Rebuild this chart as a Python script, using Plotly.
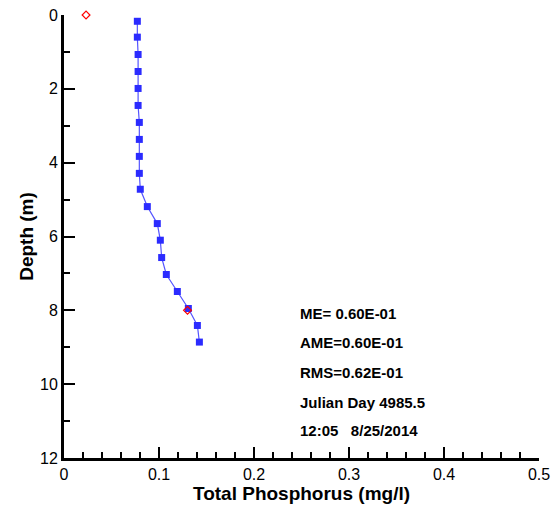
import plotly.graph_objects as go

# Model profile (blue squares)
model_tp = [0.0772, 0.0772, 0.0780, 0.0780, 0.0780, 0.0780, 0.0793, 0.0793, 0.0793,
            0.0793, 0.0803, 0.0877, 0.0982, 0.1014, 0.1028, 0.1077, 0.1193, 0.1309,
            0.1404, 0.1425]
model_depth = [0.17, 0.60, 1.07, 1.53, 1.99, 2.45, 2.91, 3.37, 3.83, 4.29, 4.72, 5.19,
               5.65, 6.10, 6.57, 7.03, 7.49, 7.95, 8.41, 8.86]

# Observations (red diamonds)
obs_tp = [0.0232, 0.130]
obs_depth = [0.0, 8.0]

stats_lines = ["ME= 0.60E-01", "AME=0.60E-01", "RMS=0.62E-01",
               "Julian Day 4985.5", "12:05   8/25/2014"]

x_ticks = [0, 0.1, 0.2, 0.3, 0.4, 0.5]
y_ticks = [0, 2, 4, 6, 8, 10, 12]

FONT = "Liberation Sans, Arial, sans-serif"

fig = go.Figure()
fig.add_trace(go.Scatter(
    x=model_tp, y=model_depth, mode="lines+markers",
    line=dict(color="#5555ff", width=1.2),
    marker=dict(symbol="square", size=7, color="#2b2bff"),
    showlegend=False, cliponaxis=False))
fig.add_trace(go.Scatter(
    x=obs_tp, y=obs_depth, mode="markers",
    marker=dict(symbol="diamond-open", size=6, color="red", line=dict(width=1.2)),
    showlegend=False, cliponaxis=False))

ys = [0.327, 0.260, 0.194, 0.126, 0.061]
for t, yy in zip(stats_lines, ys):
    fig.add_annotation(text=f"<b>{t}</b>", xref="paper", yref="paper", x=0.492, y=yy,
                       xanchor="left", yanchor="middle", showarrow=False,
                       font=dict(family=FONT, size=15, color="black"))

fig.update_layout(
    width=554, height=506,
    margin=dict(l=64, r=15, t=15, b=48),
    paper_bgcolor="white", plot_bgcolor="white",
    font=dict(family=FONT, color="black"),
)
fig.update_xaxes(
    range=[0, 0.5], tickvals=x_ticks, ticktext=[str(v) for v in x_ticks],
    showgrid=False, zeroline=False, automargin=False,
    showline=True, linecolor="black", linewidth=3,
    ticks="inside", ticklen=11, tickwidth=2, tickcolor="black",
    minor=dict(dtick=0.02, ticks="inside", ticklen=6, tickwidth=1.5, tickcolor="black", showgrid=False),
    tickfont=dict(size=16, family=FONT),
    title=dict(text="<b>Total Phosphorus (mg/l)</b>", font=dict(size=19, family=FONT), standoff=0),
)
fig.update_yaxes(
    range=[12, 0], tickvals=y_ticks, ticktext=[str(v) for v in y_ticks],
    showgrid=False, zeroline=False, automargin=False,
    showline=True, linecolor="black", linewidth=3,
    ticks="inside", ticklen=11, tickwidth=2, tickcolor="black",
    minor=dict(dtick=1, ticks="inside", ticklen=6, tickwidth=1.5, tickcolor="black", showgrid=False),
    tickfont=dict(size=16, family=FONT),
    title=dict(text="<b>Depth (m)</b>", font=dict(size=19, family=FONT), standoff=2),
)

fig.write_html("out.html", config={"displayModeBar": False},
               post_script="document.body.style.margin='0';document.body.style.overflow='hidden';")
